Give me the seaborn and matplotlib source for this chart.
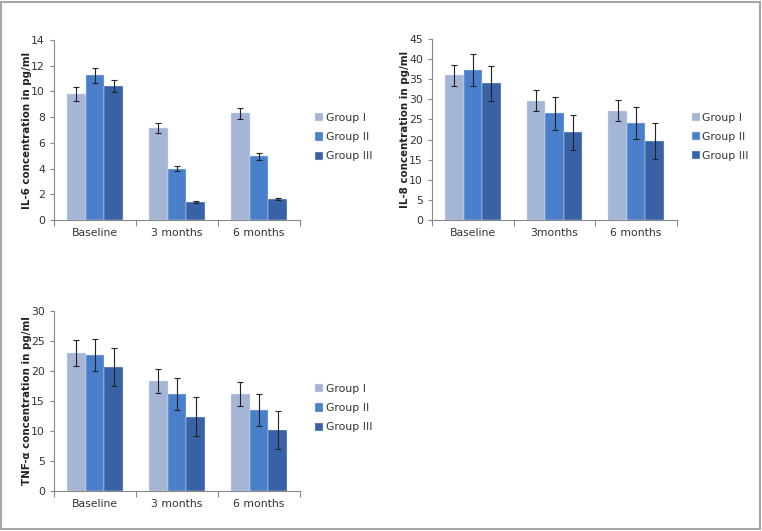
import matplotlib
matplotlib.use("Agg")
import matplotlib.pyplot as plt
from matplotlib.patches import Rectangle
import seaborn as sns
import pandas as pd

groups = ["Group I", "Group II", "Group III"]
colors = ["#A5B5D5", "#4A7FCB", "#3962A6"]

# IL-6
il6_times = ["Baseline", "3 months", "6 months"]
il6_g1 = [9.8, 7.15, 8.3]
il6_g2 = [11.25, 4.0, 4.95]
il6_g3 = [10.42, 1.37, 1.65]
il6_e1 = [0.52, 0.4, 0.42]
il6_e2 = [0.57, 0.2, 0.25]
il6_e3 = [0.5, 0.08, 0.08]

# IL-8
il8_times = ["Baseline", "3months", "6 months"]
il8_g1 = [36.0, 29.7, 27.2]
il8_g2 = [37.2, 26.5, 24.2]
il8_g3 = [34.0, 21.8, 19.7]
il8_e1 = [2.6, 2.6, 2.7]
il8_e2 = [4.0, 4.0, 4.0]
il8_e3 = [4.4, 4.4, 4.5]

# TNF-alpha
tnf_times = ["Baseline", "3 months", "6 months"]
tnf_g1 = [23.0, 18.4, 16.1]
tnf_g2 = [22.7, 16.2, 13.5]
tnf_g3 = [20.7, 12.4, 10.2]
tnf_e1 = [2.1, 2.0, 2.0]
tnf_e2 = [2.7, 2.7, 2.7]
tnf_e3 = [3.2, 3.2, 3.2]

sns.set_theme(style="white")
plt.rcParams['font.family'] = ['DejaVu Sans']

W, H = 762, 531
fig = plt.figure(figsize=(W / 100, H / 100), dpi=100)
fig.patches.append(Rectangle((1 / W, 2 / H), 759 / W, 527 / H, transform=fig.transFigure,
                             fill=False, edgecolor="#A6A6A6", linewidth=1.5))


def panel(rect, times, vals, errs, ymax, ystep, ylabel):
    left, top, right, bottom = rect
    ax = fig.add_axes([left / W, 1 - bottom / H, (right - left) / W, (bottom - top) / H])
    rows = []
    for g, v, e in zip(groups, vals, errs):
        for t, vv, ee in zip(times, v, e):
            rows.append({"time": t, "group": g, "value": vv, "err": ee})
    df = pd.DataFrame(rows)
    sns.barplot(data=df, x="time", y="value", hue="group", palette=colors,
                width=0.68, errorbar=None, ax=ax, saturation=1,
                edgecolor="#DDE4F0", linewidth=0.3)
    # error bars at the bar centres
    for bar, (_, r) in zip(ax.patches, df.iterrows()):
        cx = bar.get_x() + bar.get_width() / 2
        ax.errorbar(cx, bar.get_height(), yerr=r["err"], color="#222222",
                    elinewidth=0.8, capsize=2.5, capthick=0.8)
    ax.set_xlim(-0.5, 2.5)
    ax.set_ylim(0, ymax)
    ax.set_yticks(range(0, ymax + 1, ystep))
    ax.set_xticks([-0.5, 0.5, 1.5, 2.5])
    ax.set_xticklabels([])
    ax.set_xticks([0, 1, 2], minor=True)
    ax.set_xticklabels(times, minor=True)
    ax.tick_params(axis="x", which="major", length=4, width=0.8, color="#888888", direction="out", bottom=True)
    ax.tick_params(axis="x", which="minor", length=0, labelsize=7.8, labelcolor="#333333", pad=6)
    ax.tick_params(axis="y", length=3, width=0.8, color="#888888", direction="out", left=True,
                   labelsize=7.8, labelcolor="#333333")
    for s in ["top", "right"]:
        ax.spines[s].set_visible(False)
    for s in ["left", "bottom"]:
        ax.spines[s].set_color("#888888")
        ax.spines[s].set_linewidth(0.8)
    ax.set_xlabel("")
    ax.set_ylabel(ylabel, fontsize=7.4, fontweight="bold", color="#222222")
    ax.yaxis.set_label_coords(-0.088, 0.5)
    ax.legend(loc="center left", bbox_to_anchor=(1.02, 0.46), frameon=False,
              fontsize=7.8, handlelength=0.8, handleheight=0.8, handletextpad=0.2,
              labelspacing=0.85, labelcolor="#333333")
    return ax


panel((54, 40, 300, 220), il6_times, [il6_g1, il6_g2, il6_g3], [il6_e1, il6_e2, il6_e3],
      14, 2, "IL-6 concentration in pg/ml")
panel((432, 39, 677, 220), il8_times, [il8_g1, il8_g2, il8_g3], [il8_e1, il8_e2, il8_e3],
      45, 5, "IL-8 concentration in pg/ml")
panel((54, 311, 300, 491), tnf_times, [tnf_g1, tnf_g2, tnf_g3], [tnf_e1, tnf_e2, tnf_e3],
      30, 5, "TNF-α concentration in pg/ml")

fig.savefig("out.png", dpi=100)
